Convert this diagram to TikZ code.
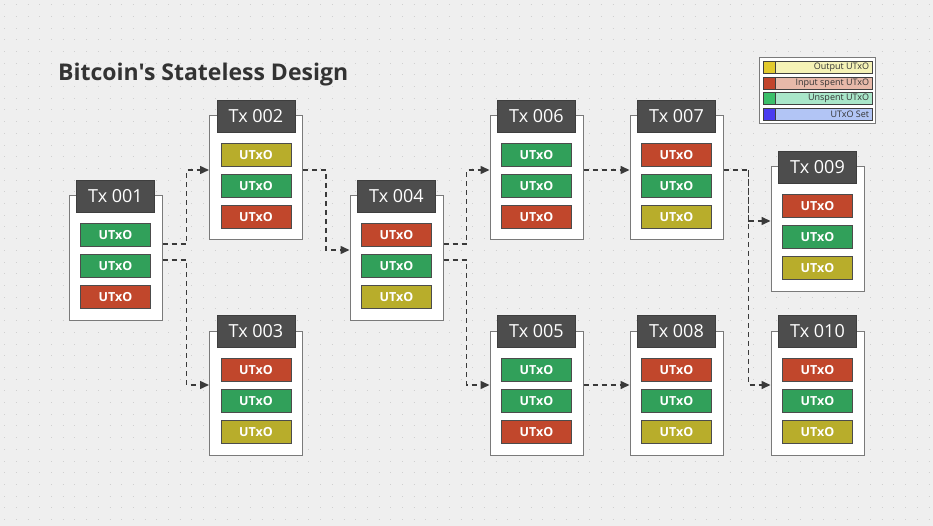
\documentclass[tikz,border=0pt]{standalone}
\usepackage{fontspec}
\setmainfont{Open Sans}
\newfontfamily\titlefont{Open Sans}[Ligatures=TeXOff]
\usetikzlibrary{arrows.meta}
\definecolor{bgc}{HTML}{EFEFEF}
\definecolor{dotc}{HTML}{CFCFCF}
\definecolor{hdr}{HTML}{4D4D4D}
\definecolor{brd}{HTML}{7A7A7A}
\definecolor{ugreen}{HTML}{31A05A}
\definecolor{ured}{HTML}{C1472C}
\definecolor{uyel}{HTML}{B8AD2B}
\definecolor{linec}{HTML}{3A3A3A}
\definecolor{lgy}{HTML}{E2CA2E}\definecolor{lgyl}{HTML}{F5F2B6}
\definecolor{lgr}{HTML}{C2452C}\definecolor{lgrl}{HTML}{E8B9A9}
\definecolor{lgg}{HTML}{3CBF6A}\definecolor{lggl}{HTML}{A9E6C9}
\definecolor{lgb}{HTML}{4A3CF0}\definecolor{lgbl}{HTML}{B2C5F5}
\tikzset{
  txbox/.style={draw=brd, line width=1pt, fill=white, minimum width=93pt, minimum height=124pt, inner sep=0pt},
  txhead/.style={draw=hdr!80!black, line width=0.6pt, fill=hdr, text=white, minimum width=78pt, minimum height=32pt, inner sep=0pt, font=\fontsize{18}{18}\selectfont},
  utxo/.style={draw=black!70, line width=0.8pt, minimum width=70pt, minimum height=23pt, inner sep=0pt, text=white, font=\fontsize{12.5}{12.5}\selectfont\bfseries},
  conn/.style={draw=linec, line width=1.5pt, dash pattern=on 5pt off 4pt, -{Triangle[length=9pt,width=8pt]}},
  connplain/.style={draw=linec, line width=1.5pt, dash pattern=on 5pt off 4pt},
  legrow/.style={draw=black!75, line width=0.7pt, minimum width=109pt, minimum height=12pt, inner sep=0pt},
  legsq/.style={draw=black!75, line width=0.7pt, minimum width=12pt, minimum height=12pt, inner sep=0pt},
  legtxt/.style={anchor=east, inner sep=0pt, text=black!80, font=\fontsize{9}{9}\selectfont},
}
\newcommand\txb[7]{%
  \node[txbox] (t#1) at (#2,#3+62) {};
  \node[txhead] (h#1) at (#2,#3) {Tx #4};
  \node[utxo, fill=#5] (t#1a) at (#2,#3+39) {UTxO};
  \node[utxo, fill=#6] (t#1b) at (#2,#3+70) {UTxO};
  \node[utxo, fill=#7] (t#1c) at (#2,#3+101) {UTxO};
}
\begin{document}
\begin{tikzpicture}[x=1pt,y=-1pt]
\fill[bgc] (0,0) rectangle (933,526);
\useasboundingbox (0,0) rectangle (933,526);
\foreach \r in {0,...,44} {
  \draw[dotc, line width=1pt, dash pattern=on 1pt off 10.7pt] (4.2,4.7+\r*11.7) -- (933,4.7+\r*11.7);
}
\node[anchor=base west, inner sep=0pt, text=black!80, font=\titlefont\fontsize{23}{23}\selectfont\bfseries] (title) at (58,81) {Bitcoin's Stateless Design};

\txb{1}{115.5}{196}{001}{ugreen}{ugreen}{ured}
\txb{2}{256}{116}{002}{uyel}{ugreen}{ured}
\txb{3}{256}{331}{003}{ured}{ugreen}{uyel}
\txb{4}{396.5}{196}{004}{ured}{ugreen}{uyel}
\txb{6}{536.5}{116}{006}{ugreen}{ugreen}{ured}
\txb{5}{536.5}{331}{005}{ugreen}{ugreen}{ured}
\txb{7}{676.5}{116}{007}{ured}{ugreen}{uyel}
\txb{8}{676.5}{331}{008}{ured}{ugreen}{uyel}
\txb{9}{817.5}{167}{009}{ured}{ugreen}{uyel}
\txb{10}{817.5}{331}{010}{ured}{ugreen}{uyel}

\draw[conn] ([yshift=14pt]t1.east) -- ++(24,0) |- ([yshift=8pt]t2.west);
\draw[conn] ([yshift=-2pt]t1.east) -- ++(24,0) |- ([yshift=8pt]t3.west);
\draw[conn] ([yshift=8pt]t2.east) -- ++(23,0) |- ([yshift=8pt]t4.west);
\draw[conn] ([yshift=14pt]t4.east) -- ++(23,0) |- ([yshift=8pt]t6.west);
\draw[conn] ([yshift=-2pt]t4.east) -- ++(23,0) |- ([yshift=8pt]t5.west);
\draw[conn] ([yshift=8pt]t6.east) -- ([yshift=8pt]t7.west);
\draw[conn] ([yshift=8pt]t5.east) -- ([yshift=8pt]t8.west);
\draw[connplain] ([yshift=8pt]t7.east) -- ++(25,0) coordinate (j) -- (j |- t9.west);
\draw[conn] (j |- t9.west) ++(0,-8) -- ([yshift=8pt]t9.west);
\draw[conn] (j) |- ([yshift=8pt]t10.west);

% legend
\node[draw=brd, line width=0.8pt, fill=white, minimum width=116pt, minimum height=66pt, inner sep=0pt] (leg) at (817.5,90.5) {};
\foreach \i/\c/\cl/\t [count=\k from 0] in {a/lgy/lgyl/Output UTxO, b/lgr/lgrl/Input spent UTxO, c/lgg/lggl/Unspent UTxO, d/lgb/lgbl/UTxO Set} {
  \node[legrow, fill=\cl] (lr\i) at (817.5,67.5+\k*15.5) {};
  \node[legsq, fill=\c] (ls\i) at (lr\i.west) [anchor=west] {};
  \node[legtxt] (lt\i) at ([xshift=-3pt]lr\i.east) {\t};
}
\end{tikzpicture}
\end{document}
